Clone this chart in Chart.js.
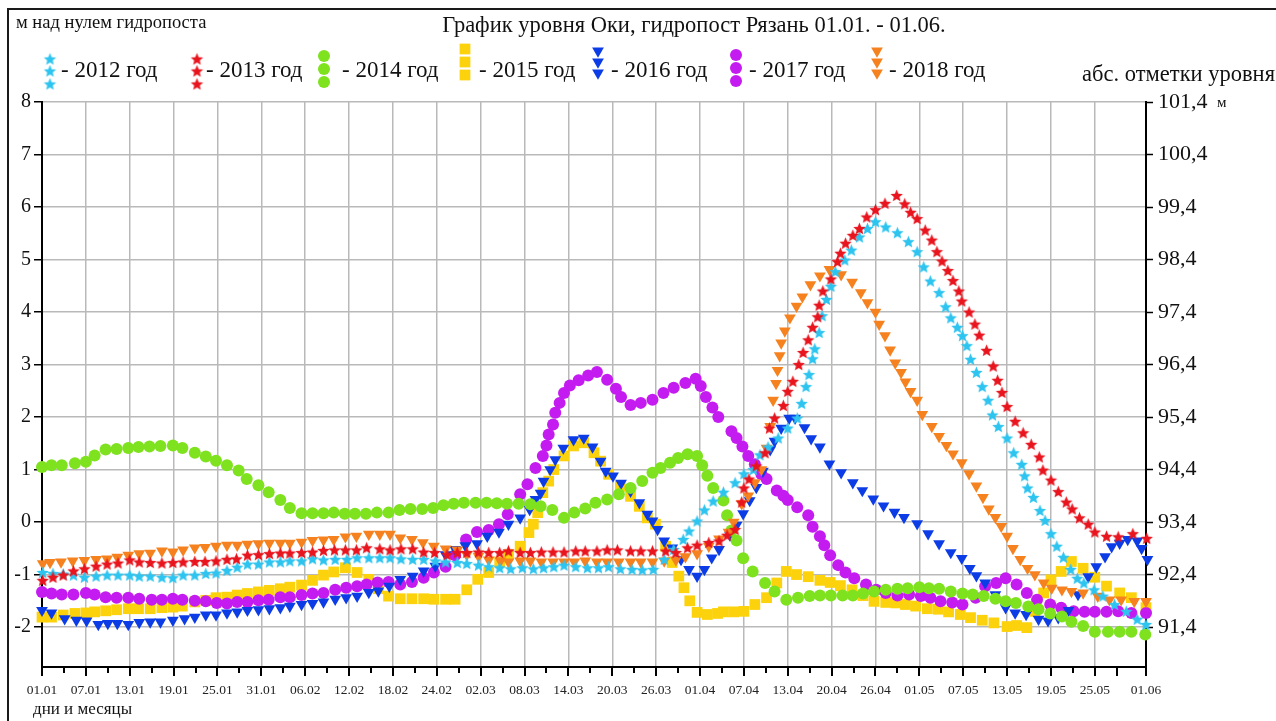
<!DOCTYPE html>
<html lang="ru">
<head>
<meta charset="utf-8">
<title>График уровня Оки, гидропост Рязань</title>
<script src="https://cdn.jsdelivr.net/npm/chart.js@4.4.1/dist/chart.umd.min.js"></script>
<style>
  html, body { margin: 0; padding: 0; background: #fff; }
  #wrap { width: 1276px; height: 721px; }
  canvas { display: block; }
</style>
</head>
<body>
<div id="wrap"><canvas id="chart" width="1276" height="721"></canvas></div>
<script>
// Oka river level at the Ryazan gauge, 01.01 - 01.06.
// Each point: [day counted from 01.01 (01.01 = 0), level above gauge zero, m].
const LEVEL_2012 = [
  [0.1,-0.96],[1.5,-0.98],[2.9,-0.99],[4.3,-1.01],[5.8,-1.05],[7.4,-1.03],[8.9,-1.01],[10.4,-1.01],[12.0,-1.01],[13.3,-1.03],
  [14.8,-1.03],[16.4,-1.05],[17.9,-1.06],[19.3,-1.01],[20.9,-1.01],[22.4,-0.98],[23.8,-0.97],[25.3,-0.92],[26.7,-0.86],[28.1,-0.80],
  [29.6,-0.80],[31.1,-0.76],[32.6,-0.76],[33.9,-0.74],[35.5,-0.74],[37.0,-0.70],[38.5,-0.72],[40.1,-0.71],[41.7,-0.71],[43.1,-0.68],
  [44.7,-0.68],[46.2,-0.68],[47.6,-0.68],[49.1,-0.70],[50.7,-0.71],[52.2,-0.71],[53.8,-0.74],[55.2,-0.76],[56.8,-0.77],[58.1,-0.79],
  [59.7,-0.82],[61.1,-0.85],[62.6,-0.87],[64.1,-0.89],[65.7,-0.87],[67.2,-0.89],[68.6,-0.87],[70.0,-0.85],[71.4,-0.82],[73.0,-0.85],
  [74.6,-0.87],[76.1,-0.87],[77.5,-0.85],[79.1,-0.89],[80.7,-0.90],[82.1,-0.91],[83.6,-0.90],[85.1,-0.71],[86.4,-0.52],[87.7,-0.33],
  [88.5,-0.17],[89.6,0.02],[90.6,0.23],[91.8,0.40],[93.2,0.57],[94.8,0.75],[96.0,0.92],[97.3,1.00],[98.2,1.28],[99.3,1.43],
  [100.7,1.60],[102.0,1.79],[103.3,1.98],[103.9,2.26],[104.5,2.58],[104.9,2.81],[105.4,3.11],[105.7,3.30],[106.3,3.61],[106.7,3.93],
  [107.3,4.24],[107.9,4.49],[108.5,4.77],[109.8,4.99],[110.7,5.18],[111.8,5.43],[112.9,5.59],[114.0,5.72],[115.4,5.62],[117.0,5.51],
  [118.5,5.34],[119.7,5.15],[120.6,4.86],[121.5,4.59],[122.7,4.37],[123.6,4.10],[124.3,3.89],[125.2,3.71],[125.9,3.55],[126.5,3.36],
  [127.0,3.10],[127.8,2.85],[128.6,2.58],[129.4,2.32],[130.0,2.04],[130.8,1.82],[132.0,1.60],[132.9,1.32],[134.0,1.10],[134.4,0.88],
  [134.8,0.65],[135.6,0.47],[136.5,0.22],[137.2,0.03],[138.0,-0.22],[138.8,-0.46],[139.7,-0.67],[140.7,-0.90],[141.6,-1.07],[142.5,-1.16],
  [143.9,-1.29],[145.1,-1.41],[146.7,-1.57],[148.3,-1.70],[149.8,-1.85],[151.0,-1.95]
];
const LEVEL_2013 = [
  [0.1,-1.11],[1.5,-1.05],[2.9,-1.01],[4.3,-0.93],[5.8,-0.89],[7.4,-0.84],[8.9,-0.80],[10.4,-0.78],[12.0,-0.72],[13.3,-0.76],
  [14.8,-0.77],[16.4,-0.78],[17.9,-0.77],[19.3,-0.76],[20.9,-0.75],[22.3,-0.75],[23.8,-0.74],[25.3,-0.71],[26.6,-0.70],[28.1,-0.63],
  [29.6,-0.62],[31.1,-0.60],[32.6,-0.59],[33.9,-0.59],[35.5,-0.58],[37.0,-0.57],[38.5,-0.54],[40.0,-0.53],[41.5,-0.53],[43.0,-0.53],
  [44.4,-0.49],[46.2,-0.51],[47.6,-0.53],[49.1,-0.51],[50.7,-0.51],[52.2,-0.57],[53.7,-0.58],[55.4,-0.62],[56.8,-0.58],[58.1,-0.58],
  [59.7,-0.57],[61.1,-0.58],[62.6,-0.58],[63.8,-0.55],[65.4,-0.58],[66.8,-0.58],[68.3,-0.57],[69.9,-0.57],[71.4,-0.57],[73.0,-0.55],
  [74.3,-0.55],[75.9,-0.55],[77.3,-0.53],[78.7,-0.53],[80.5,-0.55],[81.9,-0.55],[83.5,-0.55],[85.3,-0.55],[86.7,-0.58],[88.3,-0.49],
  [89.6,-0.44],[91.2,-0.39],[92.6,-0.36],[93.7,-0.25],[94.8,-0.14],[95.7,0.38],[96.0,0.65],[96.7,0.82],[97.7,1.07],[98.9,1.32],
  [99.5,1.79],[100.2,1.98],[101.4,2.22],[102.0,2.49],[102.7,2.68],[103.5,3.00],[104.1,3.23],[104.8,3.47],[105.4,3.71],[106.1,3.91],
  [106.3,4.13],[106.8,4.40],[107.9,4.63],[108.8,4.96],[109.2,5.12],[109.9,5.31],[110.9,5.46],[111.8,5.59],[112.8,5.81],[114.0,5.95],
  [115.3,6.07],[116.9,6.22],[118.0,6.06],[118.8,5.90],[119.7,5.78],[120.8,5.56],[121.7,5.37],[122.4,5.15],[123.1,4.97],[123.9,4.79],
  [124.6,4.60],[125.4,4.40],[125.8,4.21],[126.8,4.00],[127.6,3.77],[128.2,3.56],[129.2,3.27],[130.1,2.97],[130.7,2.70],[131.3,2.47],
  [132.0,2.20],[133.1,1.92],[134.2,1.70],[135.3,1.48],[136.4,1.24],[136.9,0.99],[138.0,0.80],[139.0,0.58],[140.1,0.38],[140.9,0.25],
  [141.9,0.08],[143.1,-0.04],[144.0,-0.19],[145.6,-0.27],[147.2,-0.28],[149.2,-0.22],[151.1,-0.31]
];
const LEVEL_2014 = [
  [0.0,1.05],[1.3,1.08],[2.7,1.08],[4.5,1.12],[6.0,1.15],[7.2,1.27],[8.7,1.38],[10.2,1.39],[11.8,1.41],[13.2,1.43],
  [14.7,1.44],[16.2,1.45],[17.9,1.46],[19.2,1.41],[20.9,1.32],[22.4,1.25],[23.8,1.17],[25.3,1.08],[26.9,0.98],[28.0,0.82],
  [29.6,0.70],[31.0,0.57],[32.6,0.42],[33.9,0.27],[35.5,0.17],[37.0,0.17],[38.5,0.17],[39.9,0.18],[41.4,0.16],[42.8,0.16],
  [44.3,0.16],[45.8,0.18],[47.4,0.18],[48.9,0.23],[50.4,0.25],[52.0,0.25],[53.5,0.27],[54.9,0.32],[56.3,0.35],[57.7,0.37],
  [59.3,0.37],[60.8,0.37],[62.2,0.36],[63.6,0.35],[65.2,0.35],[66.8,0.34],[68.2,0.30],[69.8,0.23],[71.4,0.08],[72.8,0.18],
  [74.3,0.26],[75.7,0.37],[77.3,0.43],[78.9,0.53],[80.5,0.65],[82.1,0.78],[83.5,0.94],[84.6,1.03],[85.9,1.13],[87.0,1.22],
  [88.3,1.29],[89.6,1.26],[90.3,1.08],[91.0,0.88],[91.8,0.65],[93.2,0.41],[93.7,0.13],[94.3,-0.16],[95.0,-0.35],[95.9,-0.69],
  [97.2,-0.94],[98.9,-1.16],[100.2,-1.32],[101.8,-1.48],[103.4,-1.44],[105.0,-1.41],[106.4,-1.40],[107.9,-1.40],[109.5,-1.40],[110.9,-1.40],
  [112.3,-1.36],[113.8,-1.32],[115.4,-1.29],[117.0,-1.27],[118.4,-1.26],[120.0,-1.24],[121.3,-1.26],[122.7,-1.27],[124.3,-1.32],[125.9,-1.36],
  [127.3,-1.38],[128.8,-1.41],[130.4,-1.46],[131.8,-1.51],[133.2,-1.54],[134.9,-1.61],[136.3,-1.66],[137.9,-1.74],[139.5,-1.80],[140.8,-1.90],
  [142.4,-1.98],[144.0,-2.09],[145.8,-2.09],[147.4,-2.09],[149.0,-2.09],[150.9,-2.14]
];
const LEVEL_2015 = [
  [0.0,-1.81],[1.3,-1.81],[2.9,-1.77],[4.5,-1.74],[6.0,-1.73],[7.2,-1.71],[8.7,-1.69],[10.2,-1.67],[11.8,-1.65],[13.2,-1.65],
  [14.8,-1.65],[16.4,-1.63],[17.9,-1.62],[19.2,-1.60],[20.9,-1.52],[22.4,-1.49],[23.8,-1.44],[25.3,-1.43],[26.7,-1.39],[28.1,-1.36],
  [29.6,-1.33],[31.1,-1.30],[32.6,-1.27],[33.9,-1.24],[35.5,-1.20],[37.0,-1.11],[38.5,-1.01],[39.9,-0.95],[41.5,-0.87],[43.1,-0.96],
  [44.7,-1.09],[46.0,-1.27],[47.4,-1.41],[49.0,-1.46],[50.6,-1.46],[52.2,-1.46],[53.6,-1.47],[55.2,-1.47],[56.5,-1.47],[58.1,-1.29],
  [59.6,-1.09],[61.1,-0.96],[62.6,-0.76],[63.8,-0.62],[65.4,-0.46],[66.6,-0.20],[67.2,-0.04],[67.8,0.18],[68.5,0.56],[69.3,0.78],
  [70.0,1.00],[71.4,1.26],[72.7,1.45],[74.1,1.51],[75.5,1.32],[76.4,1.16],[77.5,0.91],[79.1,0.68],[80.5,0.49],[81.7,0.30],
  [82.8,0.08],[83.9,-0.04],[85.3,-0.46],[86.2,-0.77],[87.1,-1.03],[87.8,-1.25],[88.6,-1.50],[89.6,-1.72],[91.0,-1.76],[92.4,-1.74],
  [93.2,-1.71],[94.6,-1.71],[96.0,-1.70],[97.5,-1.57],[99.1,-1.44],[100.5,-1.16],[101.8,-0.94],[103.2,-1.00],[104.8,-1.04],[106.4,-1.11],
  [107.8,-1.15],[109.2,-1.21],[110.8,-1.29],[112.3,-1.40],[113.8,-1.51],[115.4,-1.53],[116.8,-1.54],[118.1,-1.57],[119.5,-1.60],[121.1,-1.65],
  [122.6,-1.66],[124.0,-1.71],[125.6,-1.76],[127.0,-1.82],[128.6,-1.87],[130.2,-1.92],[132.0,-1.99],[133.3,-1.97],[134.7,-2.01],[135.8,-1.70],
  [137.0,-1.35],[138.0,-1.10],[139.4,-0.94],[140.8,-0.75],[142.4,-0.88],[144.0,-1.05],[145.6,-1.22],[147.4,-1.35],[149.0,-1.44],[151.0,-1.63]
];
const LEVEL_2016 = [
  [0.0,-1.68],[1.3,-1.73],[3.1,-1.84],[4.7,-1.87],[6.1,-1.88],[7.7,-1.95],[9.0,-1.93],[10.3,-1.93],[11.8,-1.95],[13.3,-1.91],
  [14.8,-1.90],[16.2,-1.90],[17.9,-1.87],[19.5,-1.84],[20.9,-1.81],[22.4,-1.77],[23.8,-1.77],[25.3,-1.73],[26.7,-1.71],[28.1,-1.68],
  [29.6,-1.67],[31.1,-1.65],[32.6,-1.63],[33.9,-1.60],[35.5,-1.57],[37.0,-1.55],[38.5,-1.52],[40.1,-1.47],[41.6,-1.44],[43.1,-1.41],
  [44.7,-1.34],[46.0,-1.31],[47.5,-1.22],[49.0,-1.09],[50.7,-1.03],[52.2,-0.93],[53.8,-0.84],[55.2,-0.62],[56.5,-0.52],[57.9,-0.45],
  [59.5,-0.41],[60.9,-0.27],[62.5,-0.19],[63.8,-0.04],[65.4,0.08],[66.7,0.24],[67.5,0.43],[68.2,0.55],[68.6,0.78],[69.5,1.00],
  [70.2,1.19],[71.3,1.41],[72.7,1.57],[74.1,1.60],[75.3,1.43],[76.4,1.16],[77.1,0.97],[78.1,0.88],[79.2,0.74],[80.5,0.59],
  [81.7,0.37],[82.8,0.15],[83.5,0.02],[84.2,-0.14],[85.1,-0.36],[86.2,-0.49],[87.4,-0.71],[88.5,-0.90],[89.6,-1.03],[90.6,-0.90],
  [91.6,-0.68],[92.6,-0.52],[94.1,-0.25],[95.0,-0.06],[95.9,0.16],[96.8,0.41],[97.7,0.66],[98.6,0.97],[99.6,1.38],[100.2,1.54],
  [101.1,1.79],[102.2,1.98],[103.0,1.98],[104.3,1.80],[105.2,1.59],[106.4,1.43],[107.7,1.11],[109.3,0.94],[110.9,0.75],[112.2,0.60],
  [113.7,0.44],[115.1,0.31],[116.6,0.19],[117.9,0.09],[119.7,-0.03],[121.2,-0.22],[122.7,-0.41],[124.3,-0.58],[125.8,-0.69],[126.9,-0.88],
  [127.8,-1.02],[129.0,-1.16],[130.4,-1.38],[131.8,-1.63],[133.1,-1.73],[134.6,-1.76],[136.3,-1.85],[137.6,-1.88],[139.0,-1.82],[140.4,-1.68],
  [141.7,-1.38],[143.1,-1.04],[144.2,-0.85],[145.4,-0.66],[146.3,-0.47],[147.4,-0.40],[148.5,-0.33],[149.8,-0.36],[150.4,-0.50],[151.2,-0.71]
];
const LEVEL_2017 = [
  [0.0,-1.33],[1.3,-1.36],[2.7,-1.38],[4.3,-1.38],[6.0,-1.35],[7.2,-1.38],[8.7,-1.43],[10.2,-1.44],[11.8,-1.44],[13.3,-1.46],
  [15.0,-1.48],[16.4,-1.48],[17.9,-1.46],[19.2,-1.48],[20.9,-1.50],[22.4,-1.51],[23.9,-1.54],[25.3,-1.55],[26.7,-1.52],[28.1,-1.52],
  [29.6,-1.49],[31.0,-1.48],[32.6,-1.43],[33.9,-1.43],[35.5,-1.39],[37.0,-1.36],[38.5,-1.35],[40.1,-1.29],[41.6,-1.25],[43.1,-1.22],
  [44.4,-1.19],[45.9,-1.15],[47.4,-1.14],[49.0,-1.19],[50.6,-1.14],[52.2,-1.06],[53.6,-0.96],[55.2,-0.85],[56.5,-0.63],[58.0,-0.33],
  [59.5,-0.19],[61.1,-0.15],[62.5,-0.04],[63.7,0.15],[65.4,0.53],[66.4,0.72],[67.5,1.03],[68.5,1.26],[69.0,1.46],[69.3,1.67],
  [69.9,1.86],[70.2,2.08],[70.8,2.27],[71.4,2.46],[72.2,2.60],[73.4,2.70],[74.7,2.79],[75.9,2.86],[77.3,2.71],[78.5,2.54],
  [79.2,2.38],[80.5,2.23],[81.9,2.27],[83.5,2.33],[85.0,2.46],[86.4,2.56],[88.0,2.65],[89.4,2.73],[90.1,2.59],[90.8,2.38],
  [91.7,2.18],[92.5,2.00],[94.3,1.73],[95.0,1.60],[95.8,1.44],[96.6,1.26],[97.5,1.10],[98.4,0.91],[99.1,0.82],[100.5,0.60],
  [101.4,0.50],[102.0,0.42],[103.3,0.28],[104.8,0.13],[105.4,-0.09],[106.4,-0.27],[107.0,-0.44],[107.8,-0.63],[108.9,-0.82],[109.9,-0.96],
  [111.1,-1.07],[112.7,-1.19],[114.1,-1.29],[115.4,-1.35],[117.0,-1.40],[118.6,-1.38],[120.2,-1.41],[121.5,-1.44],[122.9,-1.51],[124.5,-1.53],
  [125.9,-1.57],[127.7,-1.44],[129.0,-1.22],[130.5,-1.16],[131.8,-1.07],[133.3,-1.19],[134.7,-1.35],[136.1,-1.48],[137.9,-1.57],[139.4,-1.63],
  [141.1,-1.70],[142.6,-1.71],[144.0,-1.71],[145.6,-1.71],[147.2,-1.70],[149.0,-1.73],[151.0,-1.73]
];
const LEVEL_2018 = [
  [0.1,-0.79],[1.1,-0.77],[2.6,-0.76],[4.2,-0.74],[5.8,-0.73],[7.4,-0.71],[8.9,-0.70],[10.3,-0.67],[11.8,-0.63],[13.3,-0.60],
  [14.8,-0.59],[16.4,-0.55],[17.9,-0.57],[19.3,-0.53],[20.9,-0.49],[22.3,-0.48],[23.8,-0.46],[25.3,-0.44],[26.7,-0.44],[28.1,-0.42],
  [29.6,-0.41],[31.1,-0.40],[32.6,-0.40],[33.9,-0.40],[35.5,-0.38],[37.0,-0.35],[38.5,-0.34],[39.9,-0.33],[41.5,-0.28],[43.0,-0.27],
  [44.7,-0.23],[46.2,-0.23],[47.6,-0.23],[49.0,-0.30],[50.6,-0.33],[52.1,-0.39],[53.6,-0.46],[55.2,-0.51],[56.8,-0.53],[58.1,-0.62],
  [59.7,-0.65],[61.1,-0.72],[62.7,-0.74],[63.8,-0.76],[65.4,-0.74],[66.8,-0.74],[68.3,-0.76],[69.9,-0.76],[71.4,-0.76],[72.8,-0.76],
  [74.3,-0.74],[75.9,-0.76],[77.3,-0.76],[78.9,-0.76],[80.5,-0.76],[81.9,-0.76],[83.5,-0.76],[85.1,-0.74],[86.7,-0.72],[88.0,-0.66],
  [89.6,-0.60],[91.2,-0.46],[92.6,-0.32],[93.9,-0.19],[94.6,0.00],[95.7,0.35],[96.6,0.50],[97.5,0.75],[98.4,1.00],[99.1,1.41],
  [99.6,1.82],[100.0,2.32],[100.4,2.64],[100.6,2.89],[100.9,3.17],[101.1,3.41],[101.6,3.64],[102.3,3.89],[103.2,4.11],[104.0,4.29],
  [105.1,4.52],[106.4,4.69],[107.7,4.81],[109.3,4.71],[110.8,4.57],[112.0,4.37],[112.9,4.18],[114.0,4.00],[114.5,3.77],[115.3,3.55],
  [116.0,3.28],[116.7,3.03],[117.5,2.85],[118.1,2.67],[118.8,2.49],[119.7,2.32],[120.4,2.05],[121.7,1.82],[122.7,1.63],[123.7,1.46],
  [124.6,1.30],[125.8,1.13],[126.8,0.92],[127.8,0.69],[128.7,0.47],[129.5,0.25],[130.4,0.09],[131.2,-0.08],[132.0,-0.27],[132.8,-0.50],
  [133.8,-0.71],[134.8,-0.88],[135.8,-1.00],[137.0,-1.16],[138.1,-1.26],[139.5,-1.29],[140.8,-1.32],[142.4,-1.35],[144.4,-1.41],[146.0,-1.48],
  [147.6,-1.48],[149.4,-1.51],[151.0,-1.51]
];

// Axis ticks
const X_TICK_DAYS   = [0,6,12,18,24,30,36,42,48,54,60,66,72,78,84,90,96,102,108,114,120,126,132,138,144,151];
const X_TICK_LABELS = ['01.01','07.01','13.01','19.01','25.01','31.01','06.02','12.02','18.02','24.02','02.03','08.03','14.03',
                       '20.03','26.03','01.04','07.04','13.04','20.04','26.04','01.05','07.05','13.05','19.05','25.05','01.06'];
const X_MINOR_DAYS  = [3,9,15,21,27,33,39,45,51,57,63,69,75,81,87,93,99,105,111,117,123,129,135,141,147];
const LEFT_TICKS  = [-2,-1,0,1,2,3,4,5,6,7,8];
const RIGHT_TICKS = [91.4,92.4,93.4,94.4,95.4,96.4,97.4,98.4,99.4,100.4,101.4];
const Y_MIN = -2.76, Y_MAX = 8;
const GAUGE_ZERO = 93.4;          // absolute mark of gauge zero, m
const DAY_MIN = 0, DAY_MAX = 151;

const SERIF = "'Liberation Serif', 'Times New Roman', serif";
const GRID = '#b9b9b9';

const COLORS = {
  y2012: '#2ec4f0', y2013: '#e8141e', y2014: '#7ee21e', y2015: '#fcd20c',
  y2016: '#0c3ce6', y2017: '#c41cf0', y2018: '#f5821e'
};

// filled five-point star used as a marker
function starMarker(color, r) {
  const size = Math.ceil(r * 2 + 2);
  const c = document.createElement('canvas');
  c.width = c.height = size;
  const g = c.getContext('2d');
  g.translate(size / 2, size / 2 + 0.5);
  g.beginPath();
  for (let k = 0; k < 10; k++) {
    const rad = k % 2 ? r * 0.45 : r;
    const a = -Math.PI / 2 + k * Math.PI / 5;
    g.lineTo(rad * Math.cos(a), rad * Math.sin(a));
  }
  g.closePath();
  g.fillStyle = color;
  g.fill();
  return c;
}
const STAR_2012 = starMarker(COLORS.y2012, 6.5);
const STAR_2013 = starMarker(COLORS.y2013, 6.5);

const SERIES = [
  { label: '2013 год', data: LEVEL_2013, color: COLORS.y2013, style: STAR_2013, radius: 6, rotation: 0, order: 1 },
  { label: '2012 год', data: LEVEL_2012, color: COLORS.y2012, style: STAR_2012, radius: 6, rotation: 0, order: 2 },
  { label: '2018 год', data: LEVEL_2018, color: COLORS.y2018, style: 'triangle', radius: 6.8, rotation: 180, order: 3 },
  { label: '2014 год', data: LEVEL_2014, color: COLORS.y2014, style: 'circle', radius: 6, rotation: 0, order: 4 },
  { label: '2016 год', data: LEVEL_2016, color: COLORS.y2016, style: 'triangle', radius: 6.8, rotation: 180, order: 5 },
  { label: '2017 год', data: LEVEL_2017, color: COLORS.y2017, style: 'circle', radius: 6, rotation: 0, order: 6 },
  { label: '2015 год', data: LEVEL_2015, color: COLORS.y2015, style: 'rect', radius: 7.6, rotation: 0, order: 7 }
];

const datasets = SERIES.map(s => ({
  label: s.label,
  data: s.data.map(([d, v]) => ({ x: d, y: v })),
  pointStyle: s.style,
  pointRadius: s.radius,
  pointRotation: s.rotation,
  pointBackgroundColor: s.color,
  pointBorderColor: s.color,
  pointBorderWidth: 0,
  backgroundColor: s.color,
  borderColor: s.color,
  showLine: false,
  clip: false,
  order: s.order
}));

const X_LABEL_OF = new Map(X_TICK_DAYS.map((d, i) => [d, X_TICK_LABELS[i]]));
const X_ALL_TICKS = [...X_TICK_DAYS, ...X_MINOR_DAYS].sort((a, b) => a - b);

// legend entries: marker stacks and captions
const LEGEND = [
  { text: '- 2012 год', color: COLORS.y2012, style: STAR_2012, mx: 50,  tx: 61,  ys: [59, 71, 84] },
  { text: '- 2013 год', color: COLORS.y2013, style: STAR_2013, mx: 197, tx: 206, ys: [59, 71, 84] },
  { text: '- 2014 год', color: COLORS.y2014, style: 'circle',   mx: 324, tx: 342, ys: [56, 69, 82], r: 6 },
  { text: '- 2015 год', color: COLORS.y2015, style: 'rect',     mx: 465, tx: 479, ys: [49, 62, 75], r: 7.6 },
  { text: '- 2016 год', color: COLORS.y2016, style: 'triangle', mx: 598, tx: 611, ys: [51, 62, 73], r: 6.8, rot: 180 },
  { text: '- 2017 год', color: COLORS.y2017, style: 'circle',   mx: 736, tx: 749, ys: [55, 68, 81], r: 6 },
  { text: '- 2018 год', color: COLORS.y2018, style: 'triangle', mx: 877, tx: 889, ys: [51, 62, 73], r: 6.8, rot: 180 }
];

const decor = {
  id: 'decor',
  beforeDraw(chart) {
    const c = chart.ctx;
    c.save();
    c.fillStyle = '#fff';
    c.fillRect(0, 0, chart.width, chart.height);
    c.restore();
  },
  afterDraw(chart) {
    const c = chart.ctx;
    const xs = chart.scales.x;
    const base = xs.top;
    c.save();

    // tick marks under the day axis
    c.strokeStyle = '#000';
    c.lineWidth = 2;
    X_ALL_TICKS.forEach(d => {
      const px = Math.round(xs.getPixelForValue(d));
      const major = X_LABEL_OF.has(d) || d === 147;
      c.beginPath();
      c.moveTo(px, base);
      c.lineTo(px, base + (major ? 9 : 6));
      c.stroke();
    });

    // outer frame
    c.strokeStyle = '#1a1a1a';
    c.lineWidth = 2;
    c.beginPath();
    c.moveTo(8, chart.height);
    c.lineTo(8, 9);
    c.lineTo(chart.width, 9);
    c.stroke();

    c.fillStyle = '#111';
    c.textBaseline = 'alphabetic';

    c.font = '18.5px ' + SERIF;
    c.textAlign = 'left';
    c.fillText('м над нулем гидропоста', 16, 28);

    c.font = '22.5px ' + SERIF;
    c.textAlign = 'center';
    c.fillText('График уровня Оки, гидропост Рязань 01.01. - 01.06.', 694, 32);

    c.font = '22.5px ' + SERIF;
    c.textAlign = 'right';
    c.fillText('абс. отметки уровня', 1275, 81);

    c.font = '15px ' + SERIF;
    c.textAlign = 'left';
    c.fillText('м', 1217, 107);

    c.font = '17px ' + SERIF;
    c.fillText('дни и месяцы', 33, 714);

    // legend
    c.font = '23px ' + SERIF;
    LEGEND.forEach(item => {
      item.ys.forEach(y => {
        if (typeof item.style !== 'string') {
          c.drawImage(item.style, item.mx - item.style.width / 2, y - item.style.height / 2);
        } else {
          c.fillStyle = item.color;
          Chart.helpers.drawPoint(c, { pointStyle: item.style, radius: item.r, rotation: item.rot || 0, borderWidth: 0 }, item.mx, y);
        }
      });
      c.fillStyle = '#111';
      c.textAlign = 'left';
      c.fillText(item.text, item.tx, 77);
    });
    c.restore();
  }
};

new Chart(document.getElementById('chart'), {
  type: 'scatter',
  data: { datasets },
  options: {
    responsive: false,
    animation: false,
    devicePixelRatio: 1,
    layout: { padding: { top: 102, left: 0, right: 0, bottom: 0 } },
    plugins: { legend: { display: false }, title: { display: false }, tooltip: { enabled: false } },
    scales: {
      x: {
        type: 'linear',
        position: 'bottom',
        min: DAY_MIN,
        max: DAY_MAX,
        afterBuildTicks: s => { s.ticks = X_ALL_TICKS.map(v => ({ value: v })); },
        afterFit: s => { s.height = 54; },
        ticks: {
          autoSkip: false,
          maxRotation: 0,
          padding: 15,
          color: '#222',
          font: { family: SERIF, size: 13.5 },
          callback: v => X_LABEL_OF.get(v) || ''
        },
        grid: {
          drawTicks: false,
          lineWidth: 1.5,
          color: ctx => {
            const v = ctx.tick ? ctx.tick.value : -1;
            return (v % 6 === 0 && v > 0 && v <= 144) ? GRID : 'rgba(0,0,0,0)';
          }
        },
        border: { display: true, color: '#000', width: 2 }
      },
      y: {
        position: 'left',
        min: Y_MIN,
        max: Y_MAX,
        afterBuildTicks: s => { s.ticks = LEFT_TICKS.map(v => ({ value: v })); },
        afterFit: s => { s.width = 42; },
        ticks: { padding: 3, color: '#111', font: { family: SERIF, size: 20 }, callback: v => String(v) },
        grid: { color: GRID, lineWidth: 1.5, tickLength: 8, tickColor: '#000', tickWidth: 1.5 },
        border: { display: true, color: '#000', width: 2 }
      },
      y2: {
        position: 'right',
        min: Y_MIN + GAUGE_ZERO,
        max: Y_MAX + GAUGE_ZERO,
        afterBuildTicks: s => { s.ticks = RIGHT_TICKS.map(v => ({ value: v })); },
        afterFit: s => { s.width = 130; },
        ticks: { padding: 5, color: '#111', font: { family: SERIF, size: 22 }, callback: v => v.toFixed(1).replace('.', ',') },
        grid: { drawOnChartArea: false, tickLength: 7, tickColor: '#000', tickWidth: 1.5 },
        border: { display: true, color: '#000', width: 2 }
      }
    }
  },
  plugins: [decor]
});
</script>
</body>
</html>
